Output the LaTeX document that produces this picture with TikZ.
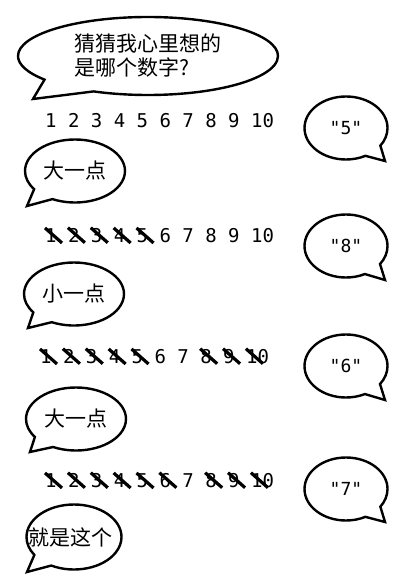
\documentclass[tikz,border=0pt]{standalone}
\usepackage{fontspec}
\usetikzlibrary{shapes.callouts,positioning}
\newfontfamily\cjk{Noto Sans CJK SC}
\newfontfamily\mono{DejaVu Sans Mono}
\tikzstyle{bubble} = [ellipse callout, draw=black, line width=2.4pt, inner sep=0pt, callout pointer arc=28, font=\cjk\fontsize{21}{24}\selectfont]
\tikzstyle{saybox} = [bubble, minimum width=100pt, minimum height=63pt]
\tikzstyle{guessbox} = [bubble, minimum width=83pt, minimum height=63pt, font=\mono\fontsize{18}{20}\selectfont]
\tikzstyle{num} = [inner sep=0pt, anchor=base west, font=\mono\fontsize{19}{20}\selectfont]
\tikzstyle{strike} = [line width=3.2pt]

\begin{document}
\begin{tikzpicture}[x=1pt, y=-1pt]
	\useasboundingbox (0,0) rectangle (407,586);
	\node (ask) [bubble, minimum width=260pt, minimum height=78pt, align=left, callout absolute pointer={(33,99)}] at (148,56) {猜猜我心里想的\\是哪个数字?};

	% rows of numbers
	\foreach \i in {1,...,10} \node (a\i) [num] at ({45+(\i-1)*22.88},127) {\i};
	\foreach \i in {1,...,10} \node (b\i) [num] at ({45+(\i-1)*22.88},242) {\i};
	\foreach \i in {1,...,10} \node (c\i) [num] at ({40+(\i-1)*22.88},363) {\i};
	\foreach \i in {1,...,10} \node (d\i) [num] at ({45+(\i-1)*22.88},487) {\i};

	% guesses
	\node (g1) [guessbox, callout absolute pointer={(385,161)}] at (346,128) {"5"};
	\node (g2) [guessbox, callout absolute pointer={(385,280)}] at (346,246) {"8"};
	\node (g3) [guessbox, callout absolute pointer={(385,400)}] at (346,366) {"6"};
	\node (g4) [guessbox, callout absolute pointer={(385,522)}] at (346,489) {"7"};

	% answers
	\node (s1) [saybox, callout absolute pointer={(27,206)}] at (75,171) {大一点};
	\node (s2) [saybox, callout absolute pointer={(28,328)}] at (74,294) {小一点};
	\node (s3) [saybox, callout absolute pointer={(30,452)}] at (76,419) {大一点};
	\node (s4) [saybox, minimum width=95pt, minimum height=65pt, callout absolute pointer={(27,572)}] at (74,537) {\makebox[0pt]{\kern-8pt 就是这个}};

	% crossed out
	\foreach \i in {1,...,5} \draw [strike] (b\i.north west) -- ++(17,15);
	\foreach \i in {1,2,3,4,5,8,9,10} \draw [strike] (c\i.north west) -- ++(17,15);
	\foreach \i in {1,2,3,4,5,6,8,9,10} \draw [strike] (d\i.north west) -- ++(17,15);
\end{tikzpicture}
\end{document}
